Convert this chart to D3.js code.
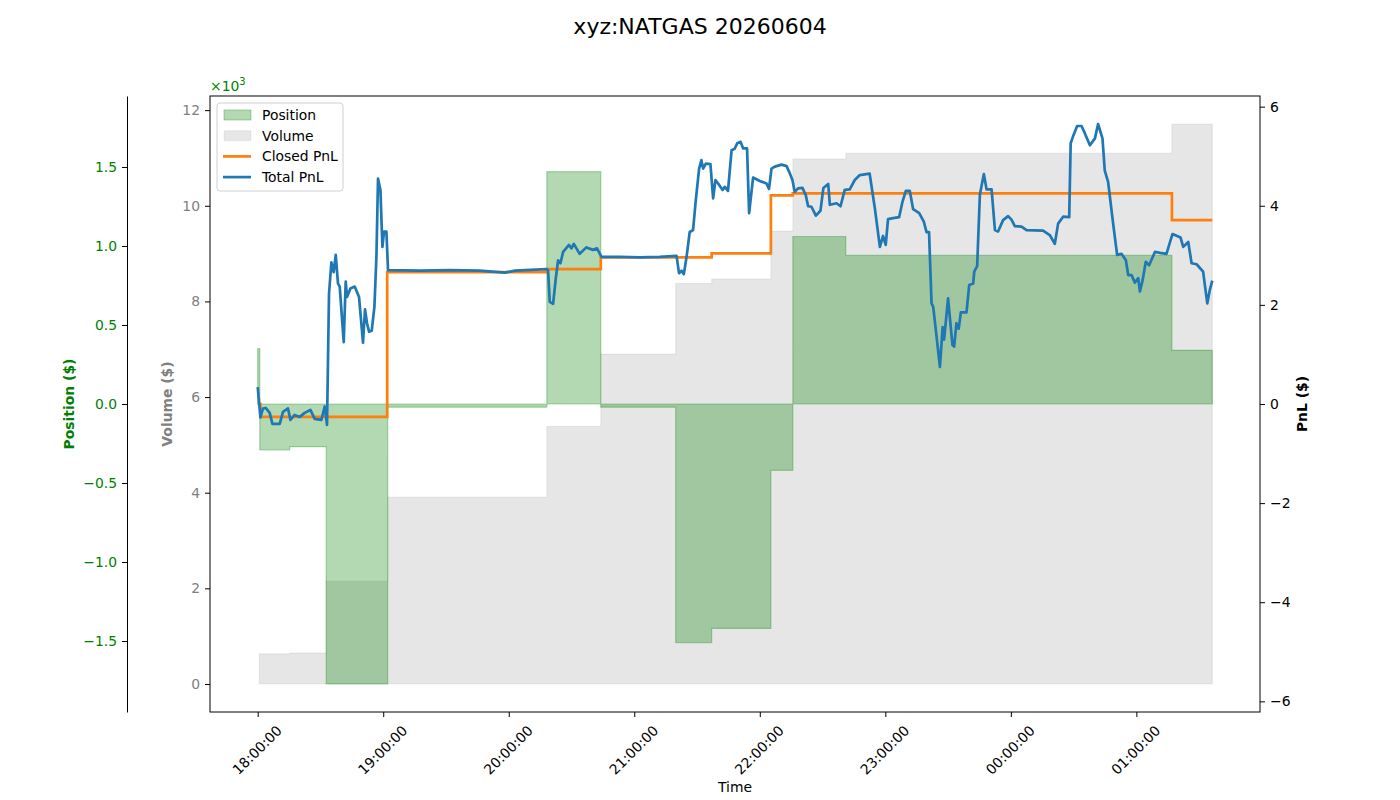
<!DOCTYPE html>
<html>
<head>
<meta charset="utf-8">
<script src="https://cdn.jsdelivr.net/npm/d3@7"></script>
<style>
body { margin: 0; background: #fff; }
svg, svg text { font-family: "DejaVu Sans", sans-serif; }
</style>
</head>
<body>
<svg width="1400" height="800"></svg>
<script>
// all times are minutes after 18:00 on 2026-06-04
const sessionStart = new Date(2026, 5, 4, 18, 0, 0);
const sessionEnd = 456.3;

const volumeTimes = [0, 0.8, 15.3, 32.75, 62.15, 138.2, 164.0, 199.8, 217.0, 245.3, 255.8, 281.1, 437.0];
const volumeValues = [0, 630, 650, 2150, 3910, 5390, 6900, 8380, 8470, 9470, 10980, 11100, 11710];

const positionTimes = [0, 1.0, 15.3, 32.75, 62.15, 138.2, 164.0, 199.8, 217.0, 245.3, 255.8, 281.1, 437.0];
const positionValues = [350, -290, -270, -1772, -20, 1470, -20, -1510, -1420, -420, 1060, 940, 340];

const closedTimes = [0, 1.3, 61.9, 138.2, 164.0, 217.0, 245.3, 255.8, 437.0];
const closedPnl = [0, -0.26, 2.66, 2.72, 2.96, 3.04, 4.21, 4.25, 3.71];

const totalTimes = [
  0, 0.14, 1.29, 2.53, 3.82, 5.74, 7.03, 10.52, 12.1, 14.49, 15.63, 17.69, 20.08, 22.47, 25.2, 27.25,
  30.45, 32.03, 33.13, 34.09, 35.23, 36.33, 37.29, 38.39, 39.2, 41.12, 42.07, 42.69, 44.32, 46.37,
  48.43, 50.34, 51.3, 52.26, 53.21, 54.5, 55.79, 56.75, 57.51, 58.66, 59.62, 60.38, 61.53, 62.3,
  77.45, 91.8, 106.1, 118.1, 122.9, 138.0, 138.8, 139.6, 141.2, 142.5, 143.6, 144.7, 146.0, 148.8,
  150.0, 151.1, 153.9, 157.1, 160.3, 162.2, 164.3, 173.1, 182.6, 192.2, 200.2, 201.4, 202.6, 203.7,
  205.0, 206.5, 208.1, 209.4, 211.0, 212.1, 212.9, 214.2, 216.4, 217.7, 218.8, 220.1, 222.2, 223.3,
  224.8, 226.5, 228.0, 229.2, 230.8, 232.0, 233.9, 234.9, 236.8, 240.0, 243.2, 244.4, 245.6, 247.2,
  250.4, 252.8, 254.1, 255.6, 256.7, 258.3, 260.4, 262.0, 263.1, 264.7, 266.8, 269.0, 270.4, 272.7,
  273.5, 276.7, 278.6, 280.6, 283.0, 285.4, 287.8, 292.5, 295.0, 297.4, 298.9, 300.2, 301.3, 303.7,
  306.6, 308.2, 309.8, 311.7, 313.3, 316.2, 318.4, 319.7, 320.9, 322.1, 322.9, 324.5, 326.1, 327.4,
  328.1, 330.0, 332.1, 332.9, 334.0, 335.1, 336.1, 338.8, 340.1, 342.0, 342.5, 343.9, 345.2, 347.1,
  348.4, 350.8, 352.4, 353.9, 356.3, 358.7, 360.3, 361.9, 365.1, 367.5, 375.4, 378.6, 381.0, 382.6,
  385.0, 387.9, 388.6, 389.8, 391.7, 393.8, 395.4, 397.8, 400.2, 401.7, 403.8, 404.9, 406.5, 408.9,
  410.8, 412.9, 415.0, 416.1, 417.7, 419.3, 420.9, 421.7, 423.0, 424.5, 426.1, 428.9, 431.3, 434.4,
  436.4, 437.3, 441.1, 442.4, 444.8, 446.4, 448.8, 451.9, 453.9, 455.1, 456.3
];
const totalPnl = [
  0.34, 0.28, -0.27, -0.09, -0.08, -0.18, -0.40, -0.40, -0.16, -0.09, -0.32, -0.22, -0.26, -0.18, -0.12, -0.30,
  -0.32, -0.05, -0.42, 2.23, 2.86, 2.66, 3.01, 2.43, 2.37, 1.25, 2.47, 2.16, 2.33, 2.37,
  2.16, 1.24, 1.91, 1.63, 1.46, 1.48, 1.96, 2.97, 4.55, 4.32, 3.17, 3.48, 3.48, 2.70,
  2.69, 2.70, 2.69, 2.65, 2.69, 2.72, 2.70, 2.06, 2.02, 2.54, 2.90, 2.84, 3.07, 3.21,
  3.14, 3.23, 3.03, 3.16, 3.11, 3.14, 2.97, 2.97, 2.96, 2.97, 2.99, 2.64, 2.69, 2.62,
  2.97, 3.47, 3.51, 4.11, 4.75, 4.92, 4.75, 4.85, 4.84, 4.15, 4.52, 4.45, 4.32, 4.38,
  4.30, 5.12, 5.15, 5.26, 5.29, 5.16, 5.16, 3.85, 4.57, 4.50, 4.45, 4.34, 4.75, 4.79,
  4.83, 4.80, 4.68, 4.52, 4.28, 4.35, 4.36, 4.21, 3.99, 3.98, 3.80, 3.90, 4.36, 4.44,
  4.02, 4.05, 3.99, 4.32, 4.33, 4.52, 4.62, 4.65, 3.95, 3.17, 3.39, 3.21, 3.73, 3.75,
  3.77, 4.08, 4.30, 4.30, 3.93, 3.85, 3.68, 3.47, 3.47, 2.03, 1.96, 1.36, 0.75, 1.55,
  1.30, 2.13, 1.19, 1.16, 1.63, 1.52, 1.85, 1.85, 2.40, 2.43, 2.67, 2.78, 4.22, 4.64,
  4.33, 4.33, 3.51, 3.48, 3.71, 3.79, 3.72, 3.59, 3.58, 3.51, 3.50, 3.41, 3.23, 3.64,
  3.78, 3.77, 5.26, 5.41, 5.61, 5.61, 5.46, 5.22, 5.36, 5.65, 5.36, 4.71, 4.48, 3.64,
  3.01, 3.03, 2.90, 2.60, 2.60, 2.45, 2.54, 2.27, 2.50, 2.87, 2.80, 3.07, 3.05, 3.03,
  3.31, 3.43, 3.36, 3.17, 3.27, 2.84, 2.82, 2.67, 2.03, 2.30, 2.49
];

const volumeTicks = [0, 2000, 4000, 6000, 8000, 10000, 12000];
const positionTicks = [-1500, -1000, -500, 0, 500, 1000, 1500];
const pnlTicks = [-6, -4, -2, 0, 2, 4, 6];

const fontSize = 13.9;
const toDate = m => new Date(sessionStart.getTime() + m * 60000);

// step series get one extra point at the end of the session
function steps(times, values) {
    let pts = times.map((t, i) => ({ t: t, v: values[i] }));
    pts.push({ t: sessionEnd, v: values[values.length - 1] });
    return pts;
}

let svg = d3.select("svg");
let plotLeft = 210, plotRight = 1260, plotTop = 96, plotBottom = 712;

let x = d3.scaleTime()
    .domain([toDate(-22.8), toDate(sessionEnd + 22.8)])
    .range([plotLeft, plotRight]);

let volMax = d3.max(volumeValues);
let yVol = d3.scaleLinear().domain([-0.05 * volMax, 1.05 * volMax]).range([plotBottom, plotTop]);
let posLim = 1.1 * d3.max(positionValues, v => Math.abs(v));
let yPos = d3.scaleLinear().domain([-posLim, posLim]).range([plotBottom, plotTop]);
let pnlLim = 1.1 * d3.max(totalPnl.concat(closedPnl), v => Math.abs(v));
let yPnl = d3.scaleLinear().domain([-pnlLim, pnlLim]).range([plotBottom, plotTop]);

svg.append("defs").append("clipPath").attr("id", "plot")
    .append("rect").attr("x", plotLeft).attr("y", plotTop)
    .attr("width", plotRight - plotLeft).attr("height", plotBottom - plotTop);

let plot = svg.append("g").attr("clip-path", "url(#plot)");

// volume (grey, bottom layer)
plot.append("path")
    .datum(steps(volumeTimes, volumeValues))
    .attr("fill", "rgba(128,128,128,0.2)")
    .attr("stroke", "rgba(128,128,128,0.12)")
    .attr("stroke-width", 1.2)
    .attr("d", d3.area().curve(d3.curveStepAfter)
        .x(d => x(toDate(d.t))).y0(yVol(0)).y1(d => yVol(d.v)));

// position (green)
plot.append("path")
    .datum(steps(positionTimes, positionValues))
    .attr("fill", "rgba(0,128,0,0.3)")
    .attr("stroke", "rgba(0,128,0,0.3)")
    .attr("stroke-width", 1.2)
    .attr("d", d3.area().curve(d3.curveStepAfter)
        .x(d => x(toDate(d.t))).y0(yPos(0)).y1(d => yPos(d.v)));

// closed pnl
plot.append("path")
    .datum(steps(closedTimes, closedPnl))
    .attr("fill", "none")
    .attr("stroke", "#ff7f0e")
    .attr("stroke-width", 2.7)
    .attr("d", d3.line().curve(d3.curveStepAfter).x(d => x(toDate(d.t))).y(d => yPnl(d.v)));

// total pnl
plot.append("path")
    .datum(totalTimes.map((t, i) => ({ t: t, v: totalPnl[i] })))
    .attr("fill", "none")
    .attr("stroke", "#1f77b4")
    .attr("stroke-width", 2.7)
    .attr("stroke-linejoin", "round")
    .attr("d", d3.line().x(d => x(toDate(d.t))).y(d => yPnl(d.v)));

// frame
svg.append("rect")
    .attr("x", plotLeft).attr("y", plotTop)
    .attr("width", plotRight - plotLeft).attr("height", plotBottom - plotTop)
    .attr("fill", "none").attr("stroke", "#000").attr("stroke-width", 1);

function styleAxis(g, color) {
    g.selectAll(".domain").attr("stroke", "#000");
    g.selectAll(".tick line").attr("stroke", "#000");
    g.selectAll(".tick text").attr("fill", color).attr("font-size", fontSize);
}

// x axis
let xAxis = svg.append("g")
    .attr("transform", `translate(0,${plotBottom})`)
    .call(d3.axisBottom(x).ticks(d3.timeHour.every(1)).tickSize(5).tickSizeOuter(0).tickFormat(""));
xAxis.select(".domain").remove();
xAxis.selectAll(".tick line").attr("stroke", "#000");
xAxis.selectAll(".tick").append("text")
    .attr("transform", "translate(-1,38) rotate(-45)")
    .attr("text-anchor", "middle")
    .attr("dy", "0.35em")
    .attr("fill", "#000")
    .attr("font-size", fontSize)
    .text(d => d3.timeFormat("%H:%M:%S")(d));

svg.append("text").attr("x", 735).attr("y", 792).attr("text-anchor", "middle")
    .attr("font-size", fontSize).text("Time");

// volume axis (left of plot)
let volAxis = svg.append("g")
    .attr("transform", `translate(${plotLeft},0)`)
    .call(d3.axisLeft(yVol).tickValues(volumeTicks).tickSize(5).tickPadding(5).tickSizeOuter(0)
        .tickFormat(d => d / 1000));
volAxis.select(".domain").remove();
styleAxis(volAxis, "#808080");

svg.append("text")
    .attr("transform", `translate(172,${(plotTop + plotBottom) / 2}) rotate(-90)`)
    .attr("text-anchor", "middle").attr("font-size", fontSize).attr("font-weight", "bold")
    .attr("fill", "#808080").text("Volume ($)");

// position axis (offset spine)
let posAxis = svg.append("g")
    .attr("transform", "translate(127,0)")
    .call(d3.axisLeft(yPos).tickValues(positionTicks).tickSize(5).tickPadding(5).tickSizeOuter(0)
        .tickFormat(d => d3.format(".1f")(d / 1000)));
styleAxis(posAxis, "green");

svg.append("text")
    .attr("transform", `translate(74,${(plotTop + plotBottom) / 2}) rotate(-90)`)
    .attr("text-anchor", "middle").attr("font-size", fontSize).attr("font-weight", "bold")
    .attr("fill", "green").text("Position ($)");

svg.append("text").attr("x", 210).attr("y", 91).attr("font-size", fontSize).attr("fill", "green")
    .html('×10<tspan dy="-6" font-size="10">3</tspan>');

// pnl axis (right)
let pnlAxis = svg.append("g")
    .attr("transform", `translate(${plotRight},0)`)
    .call(d3.axisRight(yPnl).tickValues(pnlTicks).tickSize(5).tickPadding(5).tickSizeOuter(0)
        .tickFormat(d3.format("d")));
pnlAxis.select(".domain").remove();
styleAxis(pnlAxis, "#000");

svg.append("text")
    .attr("transform", `translate(1307,${(plotTop + plotBottom) / 2}) rotate(-90)`)
    .attr("text-anchor", "middle").attr("font-size", fontSize).attr("font-weight", "bold")
    .attr("fill", "#000").text("PnL ($)");

// legend
let legendItems = [
    { name: "Position", kind: "patch", fill: "rgba(0,128,0,0.3)", stroke: "rgba(0,128,0,0.3)" },
    { name: "Volume", kind: "patch", fill: "rgba(128,128,128,0.2)", stroke: "rgba(128,128,128,0.1)" },
    { name: "Closed PnL", kind: "line", stroke: "#ff7f0e" },
    { name: "Total PnL", kind: "line", stroke: "#1f77b4" }
];
let legend = svg.append("g").attr("transform", "translate(217,103)");
legend.append("rect").attr("width", 126).attr("height", 88).attr("rx", 3)
    .attr("fill", "rgba(255,255,255,0.85)").attr("stroke", "#d0d0d0");
legendItems.forEach(function (item, i) {
    let row = legend.append("g").attr("transform", `translate(6,${12 + i * 20.7})`);
    if (item.kind === "patch") {
        row.append("rect").attr("x", 1).attr("y", -5).attr("width", 27).attr("height", 10)
            .attr("fill", item.fill).attr("stroke", item.stroke);
    } else {
        row.append("line").attr("x1", 0).attr("x2", 28).attr("y1", 0).attr("y2", 0)
            .attr("stroke", item.stroke).attr("stroke-width", 2.7);
    }
    row.append("text").attr("x", 39).attr("y", 0).attr("dy", "0.35em")
        .attr("font-size", fontSize).text(item.name);
});

// title
svg.append("text").attr("x", 700).attr("y", 34).attr("text-anchor", "middle")
    .attr("font-size", 22).text("xyz:NATGAS 20260604");
</script>
</body>
</html>
